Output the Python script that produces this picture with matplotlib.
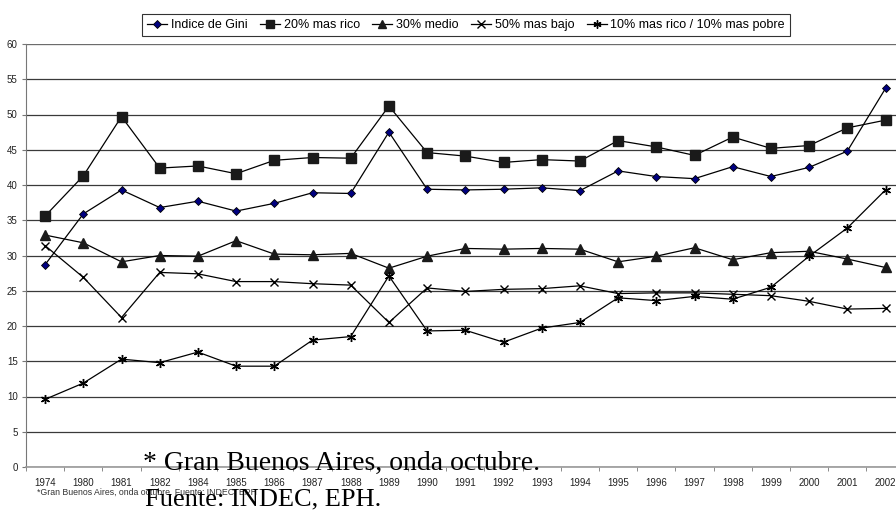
import matplotlib
matplotlib.use("Agg")
import matplotlib.pyplot as plt
import numpy as np

plt.rcParams['font.family'] = ['Liberation Sans', 'DejaVu Sans']

# Años de la EPH (Gran Buenos Aires, onda octubre)
anios = ['1974', '1980', '1981', '1982', '1984', '1985', '1986', '1987', '1988',
         '1989', '1990', '1991', '1992', '1993', '1994', '1995', '1996', '1997',
         '1998', '1999', '2000', '2001', '2002']

gini = [28.7, 35.9, 39.3, 36.8, 37.7, 36.3, 37.4, 38.9, 38.8, 47.5, 39.4, 39.3,
        39.4, 39.6, 39.2, 42.0, 41.2, 40.9, 42.6, 41.2, 42.5, 44.8, 53.7]
rico_20 = [35.6, 41.3, 49.7, 42.4, 42.7, 41.6, 43.5, 43.9, 43.8, 51.2, 44.6, 44.1,
           43.2, 43.6, 43.4, 46.3, 45.4, 44.2, 46.8, 45.2, 45.6, 48.1, 49.2]
medio_30 = [32.9, 31.8, 29.1, 30.0, 29.9, 32.1, 30.2, 30.1, 30.3, 28.2, 29.9, 31.0,
            30.9, 31.0, 30.9, 29.1, 29.9, 31.1, 29.4, 30.4, 30.6, 29.5, 28.3]
bajo_50 = [31.4, 26.9, 21.2, 27.6, 27.4, 26.3, 26.3, 26.0, 25.8, 20.5, 25.4, 24.9,
           25.2, 25.3, 25.7, 24.6, 24.7, 24.7, 24.5, 24.3, 23.5, 22.4, 22.5]
ratio_10 = [9.6, 11.9, 15.3, 14.8, 16.3, 14.3, 14.3, 18.0, 18.5, 27.1, 19.3, 19.4,
            17.7, 19.7, 20.5, 24.0, 23.6, 24.2, 23.8, 25.5, 29.9, 33.9, 39.3]

fig = plt.figure(figsize=(8.96, 5.13), dpi=100)
ax = fig.add_axes([26 / 896, 46 / 513, 878.6 / 896, 423 / 513])

x = np.arange(len(anios))
linea = dict(color='black', linewidth=0.9)
ax.plot(x, gini, marker='D', markersize=4.5, markerfacecolor='#000080',
        markeredgecolor='black', markeredgewidth=0.6, label='Indice de Gini', **linea)
ax.plot(x, rico_20, marker='s', markersize=6.5, markerfacecolor='#1a1a1a',
        markeredgecolor='#1a1a1a', label='20% mas rico', **linea)
ax.plot(x, medio_30, marker='^', markersize=6.5, markerfacecolor='#1a1a1a',
        markeredgecolor='#1a1a1a', label='30% medio', **linea)
ax.plot(x, bajo_50, marker='x', markersize=6, markeredgewidth=1.0,
        label='50% mas bajo', **linea)
ax.plot(x, ratio_10, marker=(6, 2, 0), markersize=6.5, markeredgewidth=1.0,
        label='10% mas rico / 10% mas pobre', **linea)

ax.set_xlim(-0.5, len(anios) - 0.5)
ax.set_ylim(0, 60)
ax.set_yticks(np.arange(0, 61, 5))
ax.set_xticks(x)
ax.set_xticklabels(anios)
ax.set_xticks(np.arange(-0.5, len(anios), 1), minor=True)
ax.tick_params(axis='x', which='major', length=0, pad=8, labelsize=7, labelcolor='#222222')
ax.tick_params(axis='x', which='minor', length=3, color='#777777', direction='out')
ax.tick_params(axis='y', length=3, pad=3, labelsize=7, labelcolor='#222222',
               color='#777777', direction='out')

ax.yaxis.grid(True, color='#3a3a3a', linewidth=0.9)
ax.set_axisbelow(True)
for lado in ['top', 'right']:
    ax.spines[lado].set_visible(False)
ax.spines['left'].set_color('#777777')
ax.spines['bottom'].set_color('#999999')
ax.spines['bottom'].set_linewidth(1.2)
ax.axhline(60, color='#777777', linewidth=1.2, zorder=1)

leg = fig.legend(loc='center', bbox_to_anchor=(466 / 896, 1 - 25 / 513), ncol=5,
                 fontsize=9, frameon=True, fancybox=False, edgecolor='black',
                 handlelength=1.6, handletextpad=0.3, columnspacing=1.0,
                 borderpad=0.4, markerscale=0.9)
leg.get_frame().set_linewidth(0.8)

# Nota de fuente
fig.text(37 / 896, 1 - 492 / 513, '*Gran Buenos Aires, onda octubre. Fuente: INDEC, EPH',
         fontsize=6.3, color='#333333', va='center', ha='left')
serif = ['Liberation Serif', 'DejaVu Serif']
fig.text(143 / 896, 1 - 470 / 513, '* Gran Buenos Aires, onda octubre.',
         fontsize=20, family=serif, va='baseline', ha='left')
fig.text(145 / 896, 1 - 505 / 513, 'Fuente: INDEC, EPH.',
         fontsize=19, family=serif, va='baseline', ha='left')

fig.savefig('out.png', dpi=100)
